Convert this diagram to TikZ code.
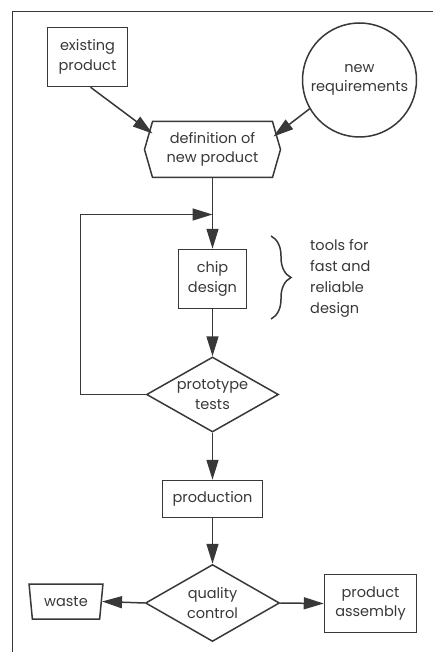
\documentclass[tikz,border=0pt]{standalone}
\usepackage{fontspec}
\setmainfont{Poppins}
\usetikzlibrary{arrows.meta,shapes.geometric,shapes.symbols,decorations.pathreplacing,calc}
\definecolor{ink}{HTML}{383838}
\tikzset{
  base/.style={draw=ink, line width=1.5pt, text=ink, font=\fontsize{14.5}{19.5}\selectfont, align=center, inner sep=0pt},
  boxnode/.style={base, rectangle},
  dia/.style={base, diamond, aspect=1.76},
  arr/.style={draw=ink, line width=1.5pt, -{Triangle[length=20pt,width=12pt]}},
  ln/.style={draw=ink, line width=1.5pt},
}
\begin{document}
\begin{tikzpicture}[x=1pt,y=-1pt]
\useasboundingbox (0,0) rectangle (433,652);
% frame
\coordinate (fbl) at (12.5,652);
\coordinate (ftl) at (12.5,11.5);
\coordinate (ftr) at (433,11.5);
\draw[ln] (fbl) -- (ftl) -- (ftr);

\node[boxnode, minimum width=80pt, minimum height=59pt] (ex) at (87.5,57) {existing\\product};
\node[base, circle, minimum size=114pt] (req) at (359.5,80) {new\\requirements};
\node[base, signal, signal to=west and east, signal pointer angle=148, minimum width=136pt, minimum height=56pt] (def) at (212.5,149.5) {definition of\\new product};
\node[boxnode, minimum width=68pt, minimum height=59pt] (chip) at (212.5,279) {chip\\design};
\node[dia, minimum width=132pt, minimum height=75pt] (proto) at (212.5,394.5) {prototype\\tests};
\node[boxnode, minimum width=100pt, minimum height=37pt] (prod) at (212.5,499) {production};
\node[dia, minimum width=134pt, minimum height=77pt] (qc) at (212.5,603) {quality\\control};
\node[base, trapezium, shape border rotate=180, trapezium stretches=true, trapezium left angle=78, trapezium right angle=78, minimum width=74pt, minimum height=35pt] (waste) at (66,601.5) {waste};
\node[boxnode, minimum width=92pt, minimum height=58pt] (pa) at (370.5,603.5) {product\\assembly};
\node[text=ink, font=\fontsize{14.5}{21}\selectfont, align=left, anchor=west, inner sep=0pt] (tools) at (310,278) {tools for\\fast and\\reliable\\design};

% connectors
\draw[arr] ($(ex.south)+(3,0)$) -- ($(def.center)+(-60,-16)$);
\draw[arr] (req.210) -- ($(def.center)+(61,-13)$);
\draw[arr] (def.south) -- (chip.north);
\draw[arr] (chip.south) -- (proto.north);
\coordinate (loopc) at (80.5,214.5);
\coordinate (join) at (def.south |- loopc);
\draw[arr] (proto.west) -| (loopc) -- (join);
\draw[arr] (proto.south) -- (prod.north);
\draw[arr] (prod.south) -- (qc.north);
\draw[arr] (qc.west) -- (waste.east);
\draw[arr] (qc.east) -- (pa.west);
% brace
\coordinate (brt) at (271,236);
\coordinate (brb) at (271,319);
\draw[ln, decorate, decoration={brace, amplitude=20pt}] (brt) -- (brb);
\end{tikzpicture}
\end{document}
